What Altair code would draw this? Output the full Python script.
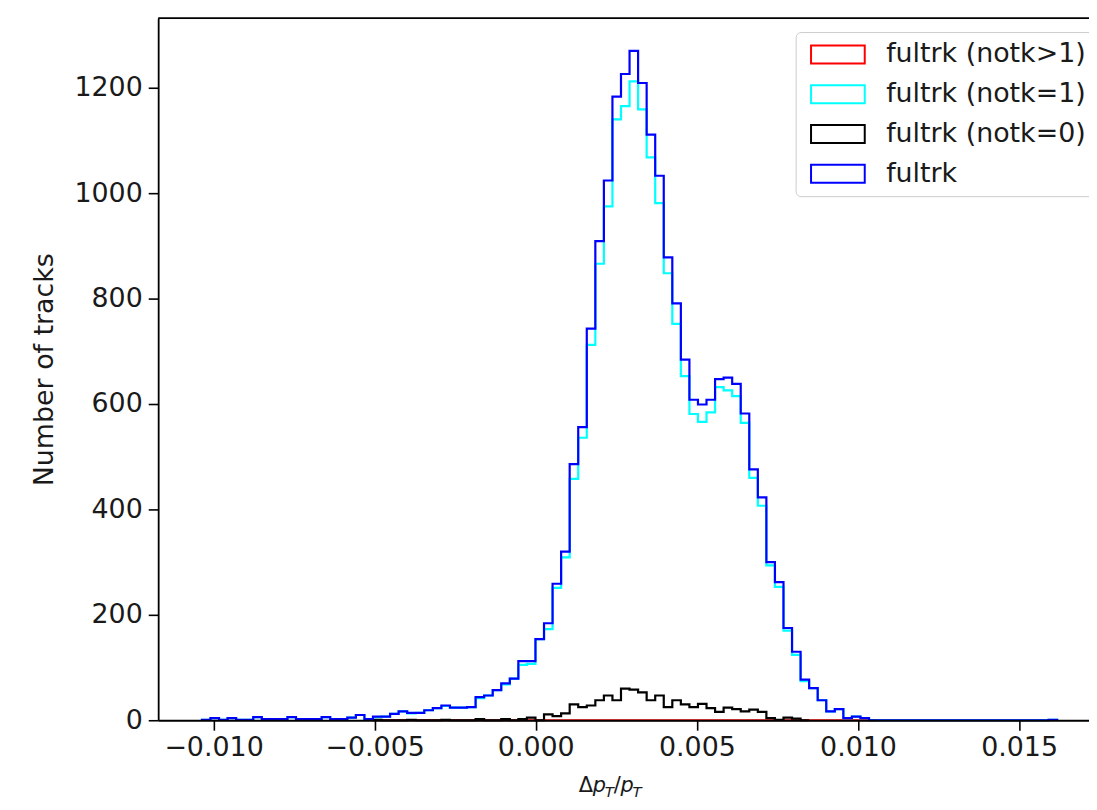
import altair as alt
import pandas as pd

# ---- data ----
bin_lo = -0.010361
bin_width = 0.00026543

series_names = ["fultrk (notk>1)", "fultrk (notk=1)", "fultrk (notk=0)", "fultrk"]
series_colors = ["#ff0000", "#00ffff", "#000000", "#0000ff"]

blue_start = 0
blue_counts = [1, 4, 1, 4, 1, 1, 6, 2, 2, 2,
               6, 2, 2, 2, 6, 2, 2, 5, 10, 2,
               7, 7, 12, 17, 14, 14, 19, 23, 28, 24,
               24, 25, 44, 47, 57, 70, 79, 112, 112, 154,
               184, 259, 320, 486, 556, 743, 909, 1024, 1183, 1226,
               1270, 1209, 1111, 1033, 878, 791, 684, 608, 599, 608,
               647, 650, 638, 582, 476, 423, 300, 262, 175, 130,
               77, 61, 38, 17, 21, 4, 7, 4, 0, 0,
               0, 0, 0, 0, 0, 0, 0, 0, 0, 0,
               0, 0, 0, 0, 0, 0, 0, 0, 0, 1]

cyan_start = 0
cyan_counts = [1, 4, 1, 4, 1, 1, 6, 2, 2, 2,
               6, 2, 2, 2, 6, 2, 2, 5, 10, 2,
               6, 7, 12, 17, 13, 14, 19, 23, 27, 24,
               24, 25, 42, 47, 57, 68, 79, 105, 107, 154,
               173, 251, 309, 458, 536, 712, 866, 975, 1140, 1165,
               1212, 1159, 1068, 981, 848, 752, 653, 581, 566, 584,
               632, 626, 615, 564, 460, 407, 294, 253, 170, 124,
               74, 61, 38, 17, 21, 4, 7, 4, 0, 0,
               0, 0, 0, 0, 0, 0, 0, 0, 0, 0,
               0, 0, 0, 0, 0, 0, 0, 0, 0, 1]

black_start = 20
black_counts = [1, 0, 0, 0, 1, 0, 0, 0, 1, 0,
                0, 0, 2, 0, 0, 2, 0, 2, 5, 0,
                11, 8, 13, 30, 25, 28, 38, 47, 38, 60,
                58, 53, 38, 47, 25, 38, 30, 25, 31, 23,
                16, 24, 21, 17, 20, 16, 4, 1, 5, 3,
                0]

red_start = 20
red_counts = [0, 0, 0, 0, 0, 0, 0, 0, 0, 0,
              0, 0, 0, 0, 0, 0, 0, 0, 0, 0,
              0, 0, 0, 0, 0, 0, 0, 0, 0, 0,
              0, 0, 0, 0, 0, 0, 0, 0, 0, 0,
              0, 0, 0, 0, 0, 0, 0, 0, 0, 0,
              0, 0, 0, 0, 0, 0, 0, 0, 0]

x_ticks = [-0.010, -0.005, 0.000, 0.005, 0.010, 0.015]
y_ticks = [0, 200, 400, 600, 800, 1000, 1200]

# ---- build step outlines (matplotlib histtype="step") ----
def step_rows(name, start, counts):
    rows = [dict(series=name, x=bin_lo + start * bin_width, y=0, o=0)]
    for i, c in enumerate(counts):
        rows.append(dict(series=name, x=bin_lo + (start + i) * bin_width, y=c, o=i + 1))
    end = bin_lo + (start + len(counts)) * bin_width
    rows.append(dict(series=name, x=end, y=counts[-1], o=len(counts) + 1))
    rows.append(dict(series=name, x=end, y=0, o=len(counts) + 2))
    return rows

rows = []
rows += step_rows(series_names[0], red_start, red_counts)
rows += step_rows(series_names[1], cyan_start, cyan_counts)
rows += step_rows(series_names[2], black_start, black_counts)
rows += step_rows(series_names[3], blue_start, blue_counts)
df = pd.DataFrame(rows)

W, H = 936, 706
FONT = "DejaVu Sans"
FS = 27

x_scale = alt.Scale(domain=[-0.011719, 0.01717], nice=False, zero=False)
y_scale = alt.Scale(domain=[0, 1332], nice=False, zero=False)

x_axis = alt.Axis(values=x_ticks, format=".3f", title=None, grid=False,
                  labelFont=FONT, labelFontSize=FS, labelColor="#1a1a1a",
                  tickSize=10, tickWidth=1.6, tickColor="#000000",
                  domainColor="#000000", domainWidth=1.8, labelPadding=4,
                  labelFlush=False, zindex=1)
y_axis = alt.Axis(values=y_ticks, format="d", title="Number of tracks", grid=False,
                  labelFont=FONT, labelFontSize=FS, labelColor="#1a1a1a",
                  tickSize=10, tickWidth=1.6, tickColor="#000000",
                  domainColor="#000000", domainWidth=1.8, labelPadding=6,
                  titleFont=FONT, titleFontSize=FS, titleFontWeight="normal",
                  titleColor="#1a1a1a", titleX=-114, titleY=H / 2,
                  titleAngle=270, titleAlign="center", titleBaseline="middle",
                  zindex=1)

color = alt.Color("series:N",
                  scale=alt.Scale(domain=series_names, range=series_colors),
                  legend=alt.Legend(title=None, orient="none", legendX=641, legendY=14,
                                    symbolType="M-3,-1H3V1H-3Z", symbolSize=324,
                                    symbolStrokeWidth=2, symbolFillColor="transparent",
                                    symbolOffset=20,
                                    labelFont=FONT, labelFontSize=FS, labelLimit=0,
                                    labelColor="#1a1a1a", labelOffset=35,
                                    rowPadding=12, padding=9, offset=0,
                                    fillColor="#ffffff", strokeColor="#cccccc",
                                    cornerRadius=5))

layers = []
for name in series_names:
    layers.append(
        alt.Chart(df).transform_filter(alt.datum.series == name)
        .mark_line(interpolate="step-after", strokeWidth=2.2)
        .encode(x=alt.X("x:Q", scale=x_scale, axis=x_axis),
                y=alt.Y("y:Q", scale=y_scale, axis=y_axis),
                color=color,
                order=alt.Order("o:Q"))
    )

one = pd.DataFrame({"a": [0]})
top_spine = alt.Chart(one).mark_rule(color="#000000", strokeWidth=1.8).encode(
    x=alt.value(0), x2=alt.value(W), y=alt.value(0))

# x-axis title  Δp_T / p_T  (mathtext-like pieces)
title_pieces = [
    ("Δ", "normal", 21, 0, 423),
    ("p", "italic", 21, 0, 437),
    ("T", "italic", 15, 5, 449),
    ("/", "normal", 21, 0, 458),
    ("p", "italic", 21, 0, 465),
    ("T", "italic", 15, 5, 477),
]
title_layers = []
for txt, style, fs, dy, px in title_pieces:
    title_layers.append(
        alt.Chart(one).mark_text(text=txt, font=FONT, fontSize=fs, fontStyle=style,
                                 align="left", baseline="alphabetic", color="#1a1a1a")
        .encode(x=alt.value(px), y=alt.value(778 + dy))
    )

chart = alt.layer(*layers, top_spine, *title_layers).properties(
    width=W, height=H,
    autosize=alt.AutoSizeParams(type="none"),
    padding={"left": 151, "top": 8, "right": 0, "bottom": 80},
).configure_view(stroke=None).configure(background="#ffffff")

chart.save("out.html", embed_options={"renderer": "svg", "actions": False})
